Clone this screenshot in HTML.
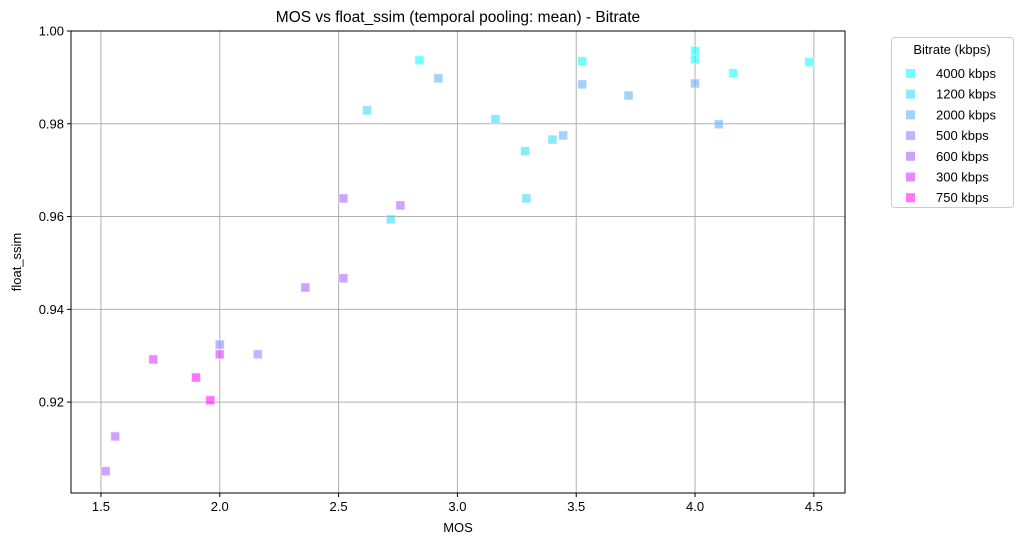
<!DOCTYPE html>
<html><head><meta charset="utf-8"><style>
body{margin:0;background:#fff;}
svg text{font-family:"Liberation Sans","DejaVu Sans",sans-serif;fill:#000;}
</style></head><body>
<svg id="chart" width="1023" height="545" xmlns="http://www.w3.org/2000/svg">
<text x="458" y="22" font-size="15.5" text-anchor="middle">MOS vs float_ssim (temporal pooling: mean) - Bitrate</text>
<g id="grid"></g><g id="axes"></g><g id="pts"></g><g id="legend"></g>
<text x="458" y="532" font-size="13" text-anchor="middle">MOS</text>
<text x="21" y="262" font-size="13" text-anchor="middle" transform="rotate(-90 21 262)">float_ssim</text>
</svg>
<script>
const seriesNames=["4000 kbps","1200 kbps","2000 kbps","500 kbps","600 kbps","300 kbps","750 kbps"];
const seriesColors=["#00ffff","#2ad5ff","#55aaff","#7f80ff","#aa55ff","#d52aff","#ff00ff"];
const s4000x=[2.84,3.525,4.0,4.0,4.16,4.48];
const s4000y=[0.9937,0.9935,0.9957,0.9939,0.9909,0.9933];
const s1200x=[2.62,3.16,3.40,3.285,3.29,2.72];
const s1200y=[0.9829,0.981,0.9766,0.9741,0.9639,0.9594];
const s2000x=[2.92,3.525,3.72,4.0,4.10,3.445];
const s2000y=[0.9898,0.9885,0.9861,0.9887,0.9799,0.9775];
const s500x=[2.0,2.16];
const s500y=[0.9324,0.9303];
const s600x=[2.52,2.76,2.36,2.52,1.56,1.52];
const s600y=[0.9639,0.9624,0.9447,0.9467,0.9126,0.9051];
const s300x=[2.0,1.72];
const s300y=[0.9303,0.9292];
const s750x=[1.90,1.96];
const s750y=[0.9253,0.9204];
const xTicks=[1.5,2.0,2.5,3.0,3.5,4.0,4.5];
const yTicks=[0.92,0.94,0.96,0.98,1.00];
const X0=71,X1=845,Y0=31,Y1=493,xmin=1.374,xmax=4.631,ymin=0.9004,ymax=1.0;
const sx=v=>X0+(v-xmin)/(xmax-xmin)*(X1-X0);
const sy=v=>Y1-(v-ymin)/(ymax-ymin)*(Y1-Y0);
const NS="http://www.w3.org/2000/svg";
function mk(p,t,a){const e=document.createElementNS(NS,t);for(const k in a)e.setAttribute(k,a[k]);p.appendChild(e);return e;}
const grid=document.getElementById('grid'),axes=document.getElementById('axes'),pts=document.getElementById('pts'),leg=document.getElementById('legend');
xTicks.forEach(t=>{const x=sx(t);
 const g=mk(grid,'line',{x1:x,x2:x,y1:Y0,y2:Y1,stroke:'#b0b0b0','stroke-width':1});
 
 
 mk(axes,'line',{x1:x,x2:x,y1:Y1,y2:Y1+4,stroke:'#000'});
 const tx=mk(axes,'text',{x:x,y:Y1+18,'font-size':13,'text-anchor':'middle'});tx.textContent=t.toFixed(1);
 
 });
yTicks.forEach(t=>{const y=sy(t);
 const g=mk(grid,'line',{x1:X0,x2:X1,y1:y,y2:y,stroke:'#b0b0b0','stroke-width':1});
 
 
 mk(axes,'line',{x1:X0-4,x2:X0,y1:y,y2:y,stroke:'#000'});
 const tx=mk(axes,'text',{x:X0-7,y:y+4.5,'font-size':13,'text-anchor':'end'});tx.textContent=t.toFixed(2);
 
 });
const fr=mk(axes,'rect',{x:X0,y:Y0,width:X1-X0,height:Y1-Y0,fill:'none',stroke:'#000','stroke-width':1});


const allX=[s4000x,s1200x,s2000x,s500x,s600x,s300x,s750x],allY=[s4000y,s1200y,s2000y,s500y,s600y,s300y,s750y];
allX.forEach((xs,i)=>xs.forEach((v,j)=>{
 const r=mk(pts,'rect',{x:sx(v)-4.5,y:sy(allY[i][j])-4.5,width:9,height:9,fill:seriesColors[i],'fill-opacity':0.55,stroke:'#fff','stroke-opacity':0.5,'stroke-width':1});
 
 }));
const lb=mk(leg,'rect',{x:891.5,y:37.5,width:122,height:170,rx:3,fill:'#fff',stroke:'#ccc'});


const lt=mk(leg,'text',{x:952,y:54,'font-size':13,'text-anchor':'middle'});lt.textContent='Bitrate (kbps)';


seriesNames.forEach((n,i)=>{const y=75+i*20.7;
 const r=mk(leg,'rect',{x:906,y:y-6,width:9,height:9,fill:seriesColors[i],'fill-opacity':0.55});
 
 
 const t=mk(leg,'text',{x:936,y:y+3,'font-size':13});t.textContent=n;
 
 });
</script>
</body></html>
